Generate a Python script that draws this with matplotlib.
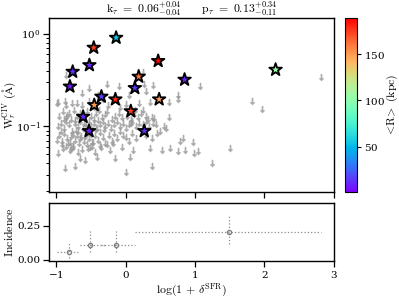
import numpy as np
import matplotlib
matplotlib.use("Agg")
import matplotlib.pyplot as plt

plt.rcParams["mathtext.fontset"] = "cm"
plt.rcParams["font.family"] = "serif"
plt.rcParams["axes.formatter.use_mathtext"] = True

# detections: log(1+delta_SFR), W_r (A), <R> (kpc)
det_x = [-0.135, -0.457, -0.52, -0.76, -0.80, 0.47, 0.19, 0.134, 0.85,
         -0.347, -0.146, -0.45, 0.484, 0.076, -0.61, -0.525, 0.27, 2.16]
det_w = [0.91, 0.71, 0.46, 0.39, 0.27, 0.51, 0.345, 0.26, 0.32,
         0.21, 0.196, 0.17, 0.196, 0.146, 0.127, 0.089, 0.089, 0.41]
det_r = [55, 175, 10, 12, 8, 188, 160, 14, 9,
         15, 180, 150, 150, 175, 10, 8, 12, 105]

# upper limits
lim_x = [-0.85, -0.53, -0.27, 0.25, 0.27, 0.39, 1.07, 2.82, -0.1, 0.18, -0.62, -0.4, 0.05, 0.3,
         -0.99, -0.97, -0.87, -0.85, -0.77, -0.70, -0.63, -0.53, -0.45, -0.32, -0.25, -0.08, 0.0,
         0.14, 0.19, 0.25, 0.35, 0.63, 0.75, 0.76, 1.82, 1.96,
         -0.95, -0.9, -0.86, -0.82, -0.78, -0.74, -0.7, -0.66, -0.6, -0.56, -0.5, -0.46, -0.42,
         -0.38, -0.34, -0.3, -0.26, -0.2, -0.15, -0.1, -0.05, 0.02, 0.08, 0.12, 0.18, 0.22, 0.3,
         0.33, 0.38, 0.41, 0.62,
         -0.97, -0.93, -0.89, -0.85, -0.81, -0.77, -0.73, -0.69, -0.65, -0.61, -0.57, -0.53,
         -0.49, -0.45, -0.41, -0.37, -0.33, -0.29, -0.25, -0.21, -0.17, -0.12, -0.08, -0.03,
         0.01, 0.05, 0.1, 0.15, 0.2, 0.25, 0.3, 0.34, 0.4, 0.44, -0.88, -0.72, -0.6, -0.4, 0.08,
         -0.96, -0.92, -0.88, -0.84, -0.8, -0.76, -0.72, -0.68, -0.64, -0.6, -0.56, -0.52, -0.48,
         -0.44, -0.4, -0.36, -0.32, -0.29, -0.24, -0.2, -0.16, -0.12, -0.08, -0.04, 0.0, 0.05,
         0.1, 0.15, -0.78, -0.66, -0.58, -0.5, -0.7,
         -0.99, -0.97, -0.9, -0.85, -0.8, -0.75, -0.68, -0.65, -0.58, -0.54, -0.48, -0.44,
         -0.41, -0.35, -0.22, -0.15, 0.066, 0.11, -0.05,
         -0.87, -0.73, 0.01, 0.38,
         0.38, 0.35, 0.52, 0.64, 0.76, 0.79, 0.83, 0.86, 0.97, 0.98, 1.04, 1.24, 1.51, 0.5,
         0.55, 0.58, 0.45, 0.25, 0.3,
         -0.91, -0.83, -0.75, -0.67, -0.55, -0.47, -0.37, -0.27, -0.18, -0.79, -0.63, -0.51,
         -0.93, -0.71, -0.57, -0.43, -0.31, -0.62, -0.84]
lim_w = [0.36, 0.26, 0.29, 0.39, 0.29, 0.28, 0.27, 0.34, 0.27, 0.39, 0.23, 0.22, 0.22, 0.24,
         0.178, 0.185, 0.19, 0.17, 0.178, 0.18, 0.17, 0.19, 0.16, 0.2, 0.17, 0.163, 0.175,
         0.15, 0.178, 0.15, 0.185, 0.185, 0.22, 0.2, 0.19, 0.153,
         0.13, 0.145, 0.125, 0.14, 0.12, 0.15, 0.13, 0.14, 0.125, 0.145, 0.13, 0.12, 0.14,
         0.15, 0.125, 0.135, 0.145, 0.12, 0.13, 0.14, 0.125, 0.13, 0.12, 0.135, 0.125, 0.14, 0.13,
         0.12, 0.125, 0.123, 0.125,
         0.1, 0.11, 0.095, 0.115, 0.105, 0.09, 0.11, 0.1, 0.115, 0.095, 0.105, 0.115,
         0.1, 0.11, 0.095, 0.105, 0.115, 0.1, 0.11, 0.095, 0.105, 0.115, 0.1, 0.11,
         0.095, 0.105, 0.115, 0.1, 0.11, 0.105, 0.115, 0.1, 0.11, 0.105, 0.12, 0.118, 0.108, 0.118, 0.108,
         0.08, 0.07, 0.085, 0.075, 0.068, 0.082, 0.072, 0.088, 0.078, 0.07, 0.085, 0.075, 0.068,
         0.08, 0.072, 0.086, 0.076, 0.066, 0.08, 0.07, 0.085, 0.075, 0.09, 0.08, 0.077, 0.07,
         0.085, 0.075, 0.078, 0.074, 0.079, 0.083, 0.08,
         0.071, 0.051, 0.058, 0.062, 0.055, 0.06, 0.053, 0.045, 0.043, 0.058, 0.062, 0.053,
         0.047, 0.06, 0.055, 0.045, 0.047, 0.056, 0.06,
         0.035, 0.037, 0.032, 0.037,
         0.074, 0.059, 0.056, 0.058, 0.054, 0.069, 0.074, 0.056, 0.068, 0.052, 0.054, 0.04, 0.059, 0.09,
         0.1, 0.095, 0.085, 0.09, 0.08,
         0.064, 0.066, 0.063, 0.066, 0.065, 0.067, 0.063, 0.064, 0.066, 0.058, 0.057, 0.06,
         0.088, 0.092, 0.091, 0.093, 0.094, 0.128, 0.132]

# incidence in bins
inc_x = [-0.81, -0.51, -0.13, 1.49]
inc_xlo = [0.18, 0.14, 0.22, 1.36]
inc_xhi = [0.13, 0.21, 0.26, 1.33]
inc_y = [0.057, 0.11, 0.11, 0.208]
inc_ylo = [0.045, 0.05, 0.05, 0.09]
inc_yhi = [0.07, 0.10, 0.10, 0.12]

fig = plt.figure(figsize=(3.99, 2.99), dpi=100)
ax = fig.add_axes([0.123, 0.358, 0.714, 0.582])
ax2 = fig.add_axes([0.123, 0.127, 0.714, 0.194], sharex=ax)
cax = fig.add_axes([0.865, 0.358, 0.030, 0.582])

ax.plot(lim_x, lim_w, ls="none", marker=r"$\downarrow$", ms=4.5, color="0.6", alpha=0.75)
sc = ax.scatter(det_x, det_w, c=det_r, cmap="rainbow", vmin=1, vmax=189, marker="*",
                s=90, edgecolors="k", linewidths=1.3, zorder=3)
ax.set_yscale("log")
ax.set_ylim(0.0195, 1.49)
ax.set_xlim(-1.1, 3.0)
ax.set_ylabel(r"$\mathrm{W}_r^{\rm CIV}\ (\mathrm{\AA})$", fontsize=8)
ax.yaxis.set_label_coords(-0.11, 0.5)
ax.set_title(r"$\mathrm{k}_\tau\ =\ 0.06^{+0.04}_{-0.04}\qquad \mathrm{p}_\tau\ =\ 0.13^{+0.34}_{-0.11}$",
             fontsize=8.5, pad=3)
ax.tick_params(labelbottom=False)

cb = fig.colorbar(sc, cax=cax)
cb.set_ticks([50, 100, 150])
cb.set_label(r"$<\!\mathrm{R}\!>\ \mathrm{(kpc)}$", fontsize=8.5)
cb.ax.yaxis.set_label_coords(3.3, 0.5)
cb.ax.tick_params(labelsize=7.5, length=3, pad=2)

eb = ax2.errorbar(inc_x, inc_y, xerr=[inc_xlo, inc_xhi], yerr=[inc_ylo, inc_yhi], fmt="o",
                  ms=3, mfc="none", mec="0.5", ecolor="0.55", elinewidth=0.9, capsize=0)
for lc in eb[2]:
    lc.set_linestyle(":")
ax2.set_ylim(-0.01, 0.42)
ax2.set_yticks([0.0, 0.25])
ax2.set_yticklabels(["0.00", "0.25"])
ax2.set_xticks([-1, 0, 1, 2, 3])
ax2.set_ylabel(r"$\mathrm{Incidence}$", fontsize=8.5)
ax2.yaxis.set_label_coords(-0.115, 0.5)
ax2.set_xlabel(r"$\log(1\,+\,\delta^{\rm SFR})$", fontsize=8.5)
ax2.xaxis.set_label_coords(0.5, -0.36)

for a in (ax, ax2):
    a.tick_params(labelsize=7.5, pad=2)
    for s in a.spines.values():
        s.set_linewidth(1.0)
ax.tick_params(which="major", length=4, width=0.9)
ax.tick_params(which="minor", length=2.5, width=0.7)
ax2.tick_params(length=4, width=0.9)

fig.savefig("out.png", dpi=100)
